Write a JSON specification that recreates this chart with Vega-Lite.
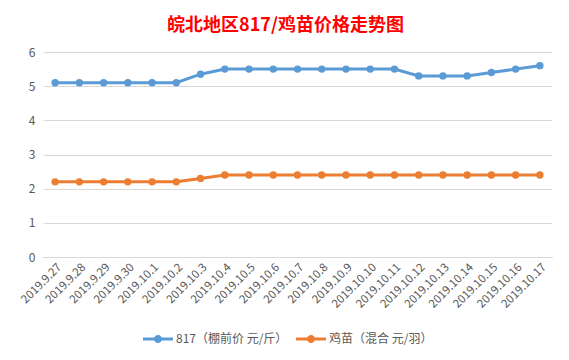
{
  "$schema": "https://vega.github.io/schema/vega-lite/v6.json",
  "width": 509,
  "height": 205,
  "autosize": {"type": "none"},
  "padding": {"left": 43, "top": 52, "right": 17, "bottom": 103},
  "background": "white",
  "title": {
    "text": "皖北地区817/鸡苗价格走势图",
    "color": "#FF0000",
    "font": "Noto Sans CJK SC",
    "fontSize": 18,
    "fontWeight": "bold",
    "anchor": "middle",
    "dx": -12,
    "offset": 11
  },
  "config": {
    "font": "Noto Sans CJK SC",
    "view": {"stroke": null},
    "axis": {"labelColor": "#595959", "titleColor": "#595959"}
  },
  "data": {
    "values": [
      {"date": "2019.9.27", "series": "817（棚前价 元/斤）", "value": 5.1},
      {"date": "2019.9.28", "series": "817（棚前价 元/斤）", "value": 5.1},
      {"date": "2019.9.29", "series": "817（棚前价 元/斤）", "value": 5.1},
      {"date": "2019.9.30", "series": "817（棚前价 元/斤）", "value": 5.1},
      {"date": "2019.10.1", "series": "817（棚前价 元/斤）", "value": 5.1},
      {"date": "2019.10.2", "series": "817（棚前价 元/斤）", "value": 5.1},
      {"date": "2019.10.3", "series": "817（棚前价 元/斤）", "value": 5.35},
      {"date": "2019.10.4", "series": "817（棚前价 元/斤）", "value": 5.5},
      {"date": "2019.10.5", "series": "817（棚前价 元/斤）", "value": 5.5},
      {"date": "2019.10.6", "series": "817（棚前价 元/斤）", "value": 5.5},
      {"date": "2019.10.7", "series": "817（棚前价 元/斤）", "value": 5.5},
      {"date": "2019.10.8", "series": "817（棚前价 元/斤）", "value": 5.5},
      {"date": "2019.10.9", "series": "817（棚前价 元/斤）", "value": 5.5},
      {"date": "2019.10.10", "series": "817（棚前价 元/斤）", "value": 5.5},
      {"date": "2019.10.11", "series": "817（棚前价 元/斤）", "value": 5.5},
      {"date": "2019.10.12", "series": "817（棚前价 元/斤）", "value": 5.3},
      {"date": "2019.10.13", "series": "817（棚前价 元/斤）", "value": 5.3},
      {"date": "2019.10.14", "series": "817（棚前价 元/斤）", "value": 5.3},
      {"date": "2019.10.15", "series": "817（棚前价 元/斤）", "value": 5.4},
      {"date": "2019.10.16", "series": "817（棚前价 元/斤）", "value": 5.5},
      {"date": "2019.10.17", "series": "817（棚前价 元/斤）", "value": 5.6},
      {"date": "2019.9.27", "series": "鸡苗（混合 元/羽）", "value": 2.2},
      {"date": "2019.9.28", "series": "鸡苗（混合 元/羽）", "value": 2.2},
      {"date": "2019.9.29", "series": "鸡苗（混合 元/羽）", "value": 2.2},
      {"date": "2019.9.30", "series": "鸡苗（混合 元/羽）", "value": 2.2},
      {"date": "2019.10.1", "series": "鸡苗（混合 元/羽）", "value": 2.2},
      {"date": "2019.10.2", "series": "鸡苗（混合 元/羽）", "value": 2.2},
      {"date": "2019.10.3", "series": "鸡苗（混合 元/羽）", "value": 2.3},
      {"date": "2019.10.4", "series": "鸡苗（混合 元/羽）", "value": 2.4},
      {"date": "2019.10.5", "series": "鸡苗（混合 元/羽）", "value": 2.4},
      {"date": "2019.10.6", "series": "鸡苗（混合 元/羽）", "value": 2.4},
      {"date": "2019.10.7", "series": "鸡苗（混合 元/羽）", "value": 2.4},
      {"date": "2019.10.8", "series": "鸡苗（混合 元/羽）", "value": 2.4},
      {"date": "2019.10.9", "series": "鸡苗（混合 元/羽）", "value": 2.4},
      {"date": "2019.10.10", "series": "鸡苗（混合 元/羽）", "value": 2.4},
      {"date": "2019.10.11", "series": "鸡苗（混合 元/羽）", "value": 2.4},
      {"date": "2019.10.12", "series": "鸡苗（混合 元/羽）", "value": 2.4},
      {"date": "2019.10.13", "series": "鸡苗（混合 元/羽）", "value": 2.4},
      {"date": "2019.10.14", "series": "鸡苗（混合 元/羽）", "value": 2.4},
      {"date": "2019.10.15", "series": "鸡苗（混合 元/羽）", "value": 2.4},
      {"date": "2019.10.16", "series": "鸡苗（混合 元/羽）", "value": 2.4},
      {"date": "2019.10.17", "series": "鸡苗（混合 元/羽）", "value": 2.4}
    ]
  },
  "mark": {"type": "line", "strokeWidth": 3, "point": {"filled": true, "size": 55}},
  "encoding": {
    "x": {
      "field": "date",
      "type": "ordinal",
      "sort": null,
      "scale": {"type": "point", "padding": 0.5},
      "axis": {
        "title": null,
        "labelAngle": -45,
        "labelFontSize": 11.5,
        "ticks": false,
        "domainColor": "#D9D9D9",
        "labelPadding": 4
      }
    },
    "y": {
      "field": "value",
      "type": "quantitative",
      "scale": {"domain": [0, 6]},
      "axis": {
        "title": null,
        "values": [0, 1, 2, 3, 4, 5, 6],
        "domain": false,
        "ticks": false,
        "gridColor": "#D9D9D9",
        "labelFontSize": 12,
        "labelPadding": 8
      }
    },
    "color": {
      "field": "series",
      "type": "nominal",
      "sort": null,
      "scale": {"range": ["#5B9BD5", "#ED7D31"]},
      "legend": {
        "title": null,
        "orient": "none",
        "legendX": 100,
        "legendY": 272,
        "direction": "horizontal",
        "symbolType": "M-1,-0.1L1,-0.1L1,0.1L-1,0.1Z M0.27,0A0.27,0.27 0 1,1 -0.27,0A0.27,0.27 0 1,1 0.27,0Z",
        "symbolSize": 900,
        "symbolStrokeWidth": 0,
        "labelFontSize": 12,
        "labelColor": "#595959",
        "labelOffset": 3,
        "columnPadding": 8,
        "encode": {"symbols": {"update": {"fill": {"scale": "color", "field": "value"}, "fillOpacity": {"value": 1}}}}
      }
    }
  }
}
